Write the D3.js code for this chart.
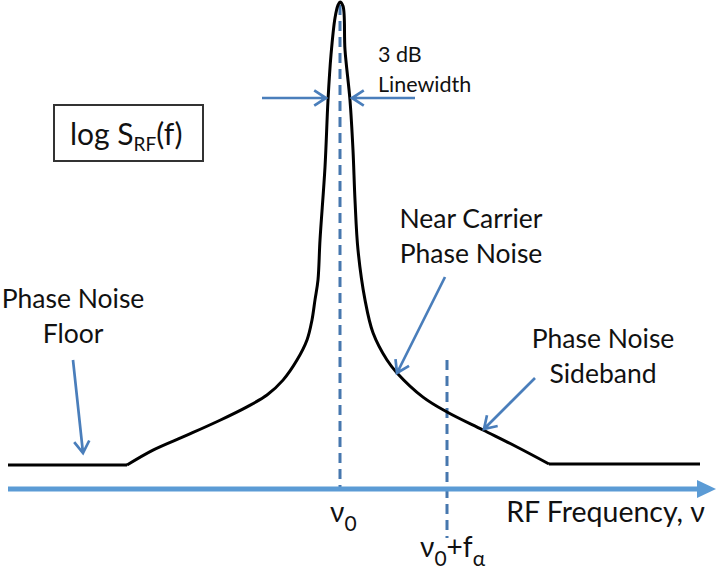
<!DOCTYPE html>
<html><head><meta charset="utf-8">
<script src="https://cdn.jsdelivr.net/npm/d3@7/dist/d3.min.js"></script>
<style>
html,body{margin:0;padding:0;background:#fff;}
svg{display:block;}
text{font-family:Lato,"Open Sans",sans-serif;fill:#111;}
</style></head>
<body>
<script>
// ---- data (frequency offset from carrier, arbitrary units; level in dB) ----
const freqOffset = [-33.2, -21.3, -18.7, -15.3, -12.0, -9.3, -7.3, -5.7, -4.3, -3.3, -2.8, -2.5, -2.2, -2.0, -1.5, -1.2, -0.9, -0.5, -0.2, 0,
                    0.3, 0.5, 1.0, 1.3, 1.5, 1.8, 2.5, 3.3, 4.7, 5.7, 8.3, 10.7, 14.3, 17.7, 20.9, 36.0];
const levelDb    = [-90, -90, -87.1, -84.2, -81.3, -78.7, -76.4, -73.5, -69.6, -65.7, -61.8, -57.9, -54.0, -46.3, -32.1, -19.1, -10.3, -3.1, -0.6, 0,
                    -0.8, -9.3, -19.1, -28.8, -38.5, -48.2, -57.9, -64.3, -69.6, -72.1, -76.8, -79.7, -83.2, -86.5, -89.8, -89.8];
const carrier = 0;
const fAlpha = 10.7;
const labels = {
  floor: ["Phase Noise", "Floor"],
  near: ["Near Carrier", "Phase Noise"],
  side: ["Phase Noise", "Sideband"],
  lw: ["3 dB", "Linewidth"],
  xTitle: "RF Frequency, ν"
};

const W = 723, H = 572;
const x = d3.scaleLinear().domain([-33.2, 36.0]).range([8, 700]);
const y = d3.scaleLinear().domain([-90, 0]).range([465, 2]);

const svg = d3.select("body").append("svg").attr("width", W).attr("height", H);

const pts = freqOffset.map((f, i) => [f, levelDb[i]]);
const n = pts.length;
const lineLin = d3.line().x(d => x(d[0])).y(d => y(d[1]));
const lineSmooth = d3.line().x(d => x(d[0])).y(d => y(d[1])).curve(d3.curveCatmullRom.alpha(0.5));

const dashCol = "#4677AE", arrowCol = "#4A7EBB", axisCol = "#5B9BD5";

// dashed markers
svg.append("line").attr("x1", x(carrier)).attr("x2", x(carrier))
  .attr("y1", y(-0.6)).attr("y2", 488)
  .attr("stroke", dashCol).attr("stroke-width", 3).attr("stroke-dasharray", "10,6");
svg.append("line").attr("x1", x(carrier + fAlpha)).attr("x2", x(carrier + fAlpha))
  .attr("y1", 360).attr("y2", 538)
  .attr("stroke", dashCol).attr("stroke-width", 3).attr("stroke-dasharray", "10,6");

// spectrum curve
const g = svg.append("g").attr("fill", "none").attr("stroke", "#000").attr("stroke-width", 3);
g.append("path").attr("d", lineLin(pts.slice(0, 2)));
g.append("path").attr("d", lineSmooth(pts.slice(1, n - 1)));
g.append("path").attr("d", lineLin(pts.slice(n - 2)));

// x axis arrow
svg.append("line").attr("x1", 8).attr("x2", 700).attr("y1", 489).attr("y2", 489)
  .attr("stroke", axisCol).attr("stroke-width", 5);
svg.append("path").attr("d", "M697,480 L716,489 L697,498 Z").attr("fill", axisCol);

// annotation arrows (open V heads)
function arrow(x1, y1, x2, y2) {
  const a = Math.atan2(y2 - y1, x2 - x1), L = 14, s = Math.PI / 5.5;
  const p = d3.path();
  p.moveTo(x1, y1); p.lineTo(x2, y2);
  p.moveTo(x2 - L * Math.cos(a - s), y2 - L * Math.sin(a - s));
  p.lineTo(x2, y2);
  p.lineTo(x2 - L * Math.cos(a + s), y2 - L * Math.sin(a + s));
  svg.append("path").attr("d", p.toString()).attr("fill", "none")
    .attr("stroke", arrowCol).attr("stroke-width", 2.7).attr("stroke-linejoin", "miter");
}
arrow(262, 98, 326, 98);
arrow(415, 98, 352, 98);
arrow(73, 360, 83, 453);
arrow(445, 277, 397, 373);
arrow(535, 378, 484, 429);

// text labels
function multi(lines, cx, y0, dy, size, anchor) {
  const t = svg.append("text").attr("font-size", size).attr("text-anchor", anchor || "middle");
  lines.forEach((l, i) => t.append("tspan").attr("x", cx).attr("y", y0 + i * dy).text(l));
}
multi(labels.floor, 73, 308, 35, 26.5);
multi(labels.near, 471, 228, 35, 26.5);
multi(labels.side, 603, 348, 35, 26.5);
multi(labels.lw, 378, 62, 30, 21.5, "start");

// log S box
svg.append("rect").attr("x", 54).attr("y", 105).attr("width", 149).attr("height", 56)
  .attr("fill", "#fff").attr("stroke", "#333").attr("stroke-width", 2);
const lt = svg.append("text").attr("x", 70).attr("y", 145).attr("font-size", 30);
lt.append("tspan").text("log S");
lt.append("tspan").attr("font-size", 19).attr("dy", 6).text("RF");
lt.append("tspan").attr("dy", -6).text("(f)");

// axis labels
svg.append("text").attr("x", 705).attr("y", 522).attr("text-anchor", "end").attr("font-size", 28.5).text(labels.xTitle);
const v0 = svg.append("text").attr("x", x(carrier) - 10).attr("y", 522).attr("font-size", 28);
v0.append("tspan").text("ν");
v0.append("tspan").attr("font-size", 21).attr("dy", 9).text("0");
const v1 = svg.append("text").attr("x", x(carrier + fAlpha) - 27).attr("y", 557).attr("font-size", 28);
v1.append("tspan").text("ν");
v1.append("tspan").attr("font-size", 21).attr("dy", 9).text("0");
v1.append("tspan").attr("dy", -9).text("+f");
v1.append("tspan").attr("font-size", 21).attr("dy", 9).text("α");
</script>
</body></html>
